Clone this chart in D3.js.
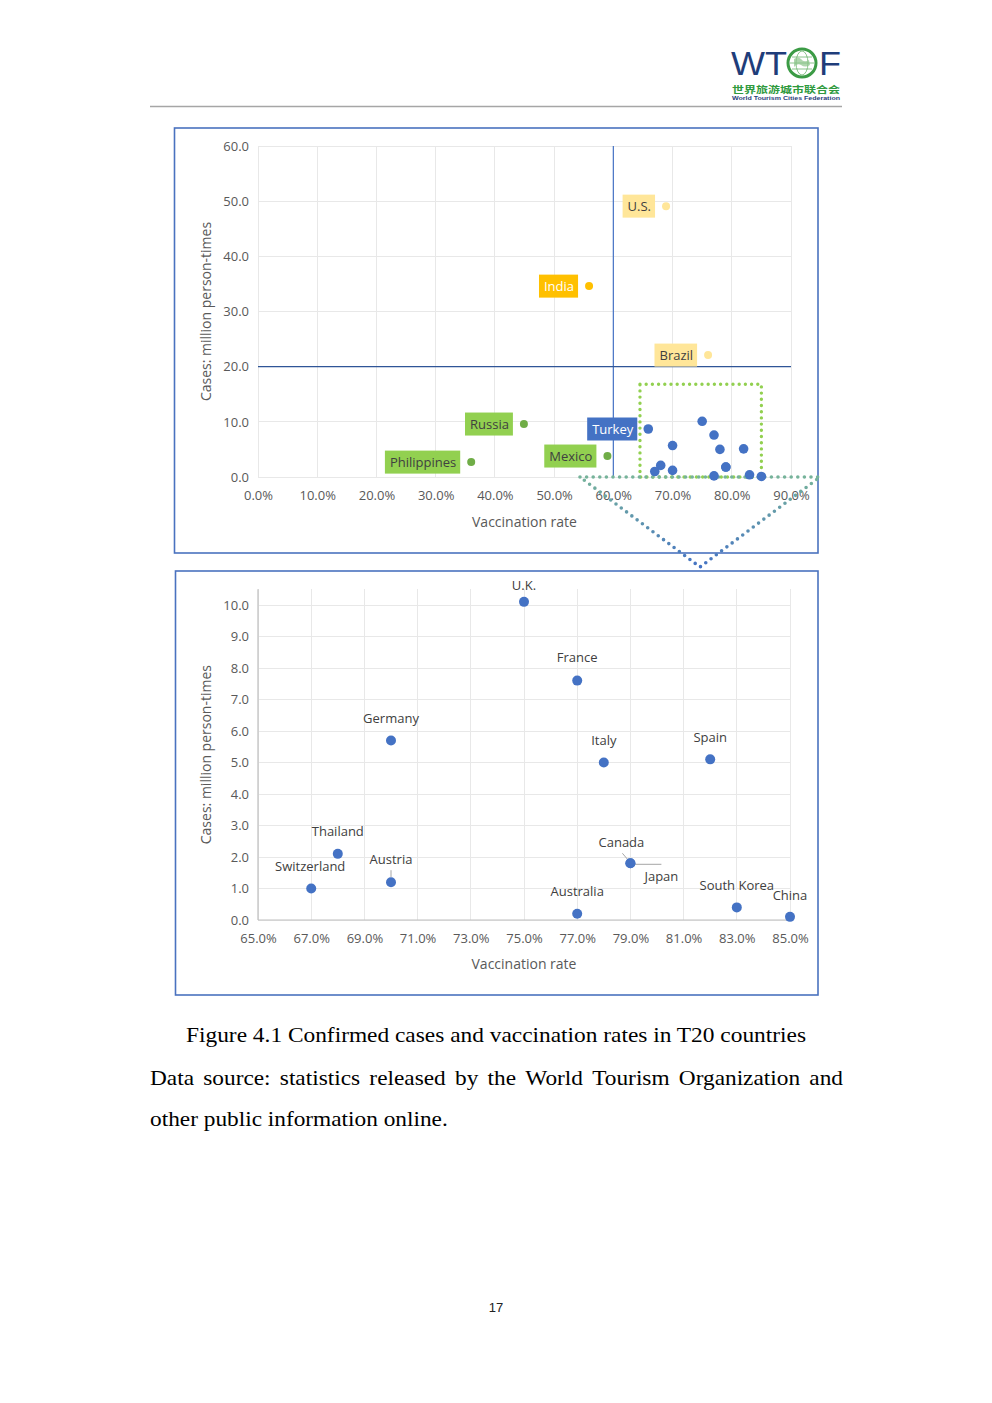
<!DOCTYPE html>
<html><head><meta charset="utf-8">
<script src="https://cdn.jsdelivr.net/npm/d3@7"></script>
<style>body{margin:0;background:#fff}</style>
</head><body>
<svg id="c" width="992" height="1403" xmlns="http://www.w3.org/2000/svg"></svg>
<script>
// ---------- DATA ----------
const topCountries = ["U.S.", "India", "Brazil", "Russia", "Philippines", "Mexico", "Turkey"];
const topRates     = [0.689, 0.559, 0.760, 0.449, 0.360, 0.590, 0.659];
const topCases     = [49.1, 34.6, 22.1, 9.6, 2.7, 3.8, 8.7];
const topGroups    = ["highCasesHighRate", "highCasesLowRate", "highCasesHighRate", "lowCasesLowRate", "lowCasesLowRate", "lowCasesLowRate", "lowCasesHighRate"];

const detailCountries = ["U.K.", "France", "Germany", "Italy", "Spain", "Thailand", "Switzerland", "Austria", "Canada", "Japan", "Australia", "South Korea", "China"];
const detailRates     = [0.75, 0.77, 0.70, 0.78, 0.82, 0.68, 0.67, 0.70, 0.79, 0.79, 0.77, 0.83, 0.85];
const detailCases     = [10.1, 7.6, 5.7, 5.0, 5.1, 2.1, 1.0, 1.2, 1.8, 1.8, 0.2, 0.4, 0.1];

const topXTicks = [0, 0.1, 0.2, 0.3, 0.4, 0.5, 0.6, 0.7, 0.8, 0.9];
const topYTicks = [0, 10, 20, 30, 40, 50, 60];
const detailXTicks = [0.65, 0.67, 0.69, 0.71, 0.73, 0.75, 0.77, 0.79, 0.81, 0.83, 0.85];
const detailYTicks = [0, 1, 2, 3, 4, 5, 6, 7, 8, 9, 10];

const rateThreshold = 0.6;
const casesThreshold = 20;
const zoomRates = [0.645, 0.85];
const zoomCases = [0, 16.8];

const xTitle = "Vaccination rate";
const yTitle = "Cases: million person-times";

// ---------- STYLE / LAYOUT (separate from data) ----------
const groupDot = {highCasesHighRate: "#FFE699", highCasesLowRate: "#FFC000", lowCasesLowRate: "#70AD47", lowCasesHighRate: "#4472C4"};
const groupBg  = {highCasesHighRate: "#FFE699", highCasesLowRate: "#FFC000", lowCasesLowRate: "#92D050", lowCasesHighRate: "#4472C4"};
const groupTx  = {highCasesHighRate: "#404040", highCasesLowRate: "#ffffff", lowCasesLowRate: "#404040", lowCasesHighRate: "#ffffff"};
const detailLabelOffset = {
  "U.K.": [0, -16], "France": [0, -23], "Germany": [0, -22], "Italy": [0, -22], "Spain": [0, -22],
  "Thailand": [0, -22], "Switzerland": [-1, -22], "Austria": [0, -23], "Canada": [-9, -21], "Japan": [31, 13],
  "Australia": [0, -22], "South Korea": [0, -22], "China": [0, -21]
};
const FONT = "'Open Sans', 'Noto Sans', sans-serif";

const svg = d3.select("#c");
svg.append("rect").attr("width", 992).attr("height", 1403).attr("fill", "#fff");

// ---------- HEADER ----------
const logo = svg.append("g");
logo.append("text").attr("x", 731).attr("y", 75).attr("font-family", "'Liberation Sans', Arial, sans-serif")
  .attr("font-size", 34).attr("fill", "#1F3D7A").attr("textLength", 56).attr("lengthAdjust", "spacingAndGlyphs").text("WT");
const gl = logo.append("g").attr("transform", "translate(802,63)");
gl.append("circle").attr("r", 14).attr("fill", "none").attr("stroke", "#3B9B45").attr("stroke-width", 3);
gl.append("ellipse").attr("rx", 6).attr("ry", 12).attr("fill", "none").attr("stroke", "#6DB56F").attr("stroke-width", 0.8);
gl.append("line").attr("x1", -12).attr("x2", 12).attr("stroke", "#6DB56F").attr("stroke-width", 0.8);
gl.append("line").attr("x1", -10).attr("x2", 10).attr("y1", -6).attr("y2", -6).attr("stroke", "#6DB56F").attr("stroke-width", 0.8);
gl.append("line").attr("x1", -10).attr("x2", 10).attr("y1", 6).attr("y2", 6).attr("stroke", "#6DB56F").attr("stroke-width", 0.8);
gl.append("path").attr("d", "M-8,-4 q4,-3 7,0 q3,4 8,1 l1,5 q-5,3 -9,0 q-4,-2 -7,2 z").attr("fill", "#8CC58A").attr("opacity", 0.7);
logo.append("text").attr("x", 819).attr("y", 75).attr("font-family", "'Liberation Sans', Arial, sans-serif")
  .attr("font-size", 34).attr("fill", "#1F3D7A").attr("textLength", 22).attr("lengthAdjust", "spacingAndGlyphs").text("F");
logo.append("text").attr("x", 732).attr("y", 93).attr("font-family", "'Noto Sans CJK SC', sans-serif")
  .attr("font-size", 9.5).attr("font-weight", "bold").attr("fill", "#2F9A3E").attr("textLength", 108).attr("lengthAdjust", "spacingAndGlyphs").text("世界旅游城市联合会");
logo.append("text").attr("x", 732).attr("y", 99.8).attr("font-family", "'Liberation Sans', Arial, sans-serif")
  .attr("font-size", 5.6).attr("font-weight", "bold").attr("fill", "#1F3D7A").attr("textLength", 108).attr("lengthAdjust", "spacingAndGlyphs").text("World Tourism Cities Federation");
svg.append("line").attr("x1", 150).attr("x2", 842).attr("y1", 106.5).attr("y2", 106.5).attr("stroke", "#A6A6A6").attr("stroke-width", 1.5);

// ---------- COMMON AXIS HELPER ----------
function drawAxes(g, x, y, xTicks, yTicks, yTopPx, withAxisLines) {
  const [x0, x1] = x.range(), [y0] = y.range();
  g.append("g").selectAll("line").data(xTicks).join("line")
    .attr("x1", d => x(d)).attr("x2", d => x(d)).attr("y1", yTopPx).attr("y2", y0)
    .attr("stroke", "#E8E8E8").attr("stroke-width", 1).attr("shape-rendering", "crispEdges");
  g.append("g").selectAll("line").data(yTicks).join("line")
    .attr("x1", x0).attr("x2", x1).attr("y1", d => y(d)).attr("y2", d => y(d))
    .attr("stroke", "#E8E8E8").attr("stroke-width", 1).attr("shape-rendering", "crispEdges");
  if (withAxisLines) {
    g.append("line").attr("x1", x0).attr("x2", x0).attr("y1", yTopPx).attr("y2", y0).attr("stroke", "#BFBFBF").attr("stroke-width", 1.2);
    g.append("line").attr("x1", x0).attr("x2", x1).attr("y1", y0).attr("y2", y0).attr("stroke", "#BFBFBF").attr("stroke-width", 1.2);
  }
  const ax = g.append("g").attr("transform", `translate(0,${y0})`)
    .call(d3.axisBottom(x).tickValues(xTicks).tickFormat(d3.format(".1%")).tickSize(0).tickPadding(14));
  const ay = g.append("g").attr("transform", `translate(${x0},0)`)
    .call(d3.axisLeft(y).tickValues(yTicks).tickFormat(d3.format(".1f")).tickSize(0).tickPadding(9));
  [ax, ay].forEach(a => {
    a.select(".domain").remove();
    a.selectAll("text").attr("font-family", FONT).attr("font-size", 13).attr("fill", "#595959");
  });
}

// ---------- TOP CHART ----------
svg.append("rect").attr("x", 174.5).attr("y", 128).attr("width", 643.5).attr("height", 425)
  .attr("fill", "none").attr("stroke", "#4A72BF").attr("stroke-width", 1.6);
const tx = d3.scaleLinear().domain([0, 0.9]).range([258, 791]);
const ty = d3.scaleLinear().domain([0, 60]).range([477, 146]);
const gTop = svg.append("g");
drawAxes(gTop, tx, ty, topXTicks, topYTicks, ty(60), false);

gTop.append("line").attr("x1", tx(rateThreshold)).attr("x2", tx(rateThreshold)).attr("y1", ty(60)).attr("y2", ty(0))
  .attr("stroke", "#4472C4").attr("stroke-width", 1.2);
gTop.append("line").attr("x1", tx(0)).attr("x2", tx(0.9)).attr("y1", ty(casesThreshold)).attr("y2", ty(casesThreshold))
  .attr("stroke", "#2F5597").attr("stroke-width", 1.2);

gTop.append("text").attr("x", (tx(0) + tx(0.9)) / 2).attr("y", 527).attr("text-anchor", "middle")
  .attr("font-family", FONT).attr("font-size", 14).attr("fill", "#595959").text(xTitle);
gTop.append("text").attr("transform", `translate(211,${(ty(0) + ty(60)) / 2}) rotate(-90)`).attr("text-anchor", "middle")
  .attr("font-family", FONT).attr("font-size", 14).attr("fill", "#595959").text(yTitle);

// zoom box + arrow
const gz = gTop.append("g");
gz.append("rect").attr("x", tx(zoomRates[0])).attr("y", ty(zoomCases[1]))
  .attr("width", tx(zoomRates[1]) - tx(zoomRates[0])).attr("height", ty(zoomCases[0]) - ty(zoomCases[1]))
  .attr("fill", "none").attr("stroke", "#92D050").attr("stroke-width", 3.4)
  .attr("stroke-dasharray", "0 6.2").attr("stroke-linecap", "round");
const defs = svg.append("defs");
const grad = defs.append("linearGradient").attr("id", "arrowGrad").attr("gradientUnits", "userSpaceOnUse")
  .attr("x1", 0).attr("x2", 0).attr("y1", ty(0)).attr("y2", 568);
grad.append("stop").attr("offset", 0).attr("stop-color", "#76B39A");
grad.append("stop").attr("offset", 1).attr("stop-color", "#4472C4");
const arrowLeft = 580, arrowRight = 820, arrowTip = [700, 567];
gz.append("path").attr("d", `M${arrowLeft},${ty(0)} L${arrowRight},${ty(0)} L${arrowTip[0]},${arrowTip[1]} Z`)
  .attr("fill", "none").attr("stroke", "url(#arrowGrad)").attr("stroke-width", 3.6)
  .attr("stroke-dasharray", "0 6.6").attr("stroke-linecap", "round");

gTop.append("g").selectAll("circle").data(detailCountries).join("circle")
  .attr("cx", (d, i) => tx(detailRates[i])).attr("cy", (d, i) => ty(detailCases[i])).attr("r", 4.8)
  .attr("fill", "#4472C4");

const tl = gTop.append("g").selectAll("g").data(topCountries).join("g");
tl.append("circle").attr("cx", (d, i) => tx(topRates[i])).attr("cy", (d, i) => ty(topCases[i]))
  .attr("r", (d, i) => topGroups[i] === "lowCasesHighRate" ? 4.8 : 4).attr("fill", (d, i) => groupDot[topGroups[i]]);
tl.each(function (d, i) {
  const g = d3.select(this);
  const cx = tx(topRates[i]), cy = ty(topCases[i]);
  const bg = g.append("rect");
  const t = g.append("text").attr("x", cx - 15).attr("y", cy + 4.7).attr("text-anchor", "end")
    .attr("font-family", FONT).attr("font-size", 13).attr("fill", groupTx[topGroups[i]]).text(d);
  const w = t.node().getComputedTextLength();
  bg.attr("x", cx - 15 - w - 5).attr("y", cy - 11.5).attr("width", w + 9).attr("height", 23)
    .attr("fill", groupBg[topGroups[i]]);
});

// ---------- DETAIL CHART ----------
svg.append("rect").attr("x", 175.5).attr("y", 571).attr("width", 642.5).attr("height", 424)
  .attr("fill", "none").attr("stroke", "#4A72BF").attr("stroke-width", 1.6);
const dx = d3.scaleLinear().domain([0.65, 0.85]).range([258, 790]);
const dy = d3.scaleLinear().domain([0, 10]).range([920, 605]);
const gDet = svg.append("g");
drawAxes(gDet, dx, dy, detailXTicks, detailYTicks, dy(10.5), true);
gDet.append("text").attr("x", (dx(0.65) + dx(0.85)) / 2).attr("y", 969).attr("text-anchor", "middle")
  .attr("font-family", FONT).attr("font-size", 14).attr("fill", "#595959").text(xTitle);
gDet.append("text").attr("transform", `translate(211,${(dy(0) + dy(10.5)) / 2}) rotate(-90)`).attr("text-anchor", "middle")
  .attr("font-family", FONT).attr("font-size", 14).attr("fill", "#595959").text(yTitle);

const leaders = gDet.append("g").attr("stroke", "#A6A6A6").attr("stroke-width", 1);
detailCountries.forEach((c, i) => {
  const px = dx(detailRates[i]), py = dy(detailCases[i]);
  if (c === "Austria") leaders.append("line").attr("x1", px).attr("x2", px).attr("y1", py - 12).attr("y2", py - 5);
  if (c === "Canada") leaders.append("line").attr("x1", px - 8).attr("x2", px - 2).attr("y1", py - 10).attr("y2", py - 3);
  if (c === "Japan") leaders.append("line").attr("x1", px + 3).attr("x2", px + 31).attr("y1", py + 1).attr("y2", py + 1);
});

gDet.append("g").selectAll("circle").data(detailCountries).join("circle")
  .attr("cx", (d, i) => dx(detailRates[i])).attr("cy", (d, i) => dy(detailCases[i])).attr("r", 5)
  .attr("fill", "#4472C4");
gDet.append("g").selectAll("text").data(detailCountries).join("text")
  .attr("x", (d, i) => dx(detailRates[i]) + detailLabelOffset[d][0])
  .attr("y", (d, i) => dy(detailCases[i]) + detailLabelOffset[d][1] + 4.6)
  .attr("text-anchor", "middle").attr("font-family", FONT).attr("font-size", 13).attr("fill", "#404040").text(d => d);

// ---------- CAPTION ----------
const SERIF = "'Liberation Serif', 'Times New Roman', serif";
const STRETCH = 1.11;
svg.append("text").attr("x", 186).attr("y", 1042).attr("font-family", SERIF).attr("font-size", 21).attr("fill", "#000")
  .attr("textLength", 620).attr("lengthAdjust", "spacingAndGlyphs")
  .text("Figure 4.1 Confirmed cases and vaccination rates in T20 countries");
const line2 = "Data source: statistics released by the World Tourism Organization and".split(" ");
const gl2 = svg.append("g");
const words = gl2.selectAll("text").data(line2).join("text").attr("y", 1085).attr("font-family", SERIF)
  .attr("font-size", 21).attr("fill", "#000").text(d => d);
const widths = words.nodes().map(n => n.getComputedTextLength() * STRETCH);
const totalW = d3.sum(widths), gap = (843 - 150 - totalW) / (line2.length - 1);
let cur = 150;
words.each(function (d, i) {
  d3.select(this).attr("x", cur).attr("textLength", widths[i]).attr("lengthAdjust", "spacingAndGlyphs");
  cur += widths[i] + gap;
});
const l3 = svg.append("text").attr("x", 150).attr("y", 1126).attr("font-family", SERIF).attr("font-size", 21).attr("fill", "#000")
  .text("other public information online.");
l3.attr("textLength", l3.node().getComputedTextLength() * STRETCH).attr("lengthAdjust", "spacingAndGlyphs");

svg.append("text").attr("x", 496).attr("y", 1312).attr("text-anchor", "middle").attr("font-family", "'Liberation Sans', Arial, sans-serif")
  .attr("font-size", 13).attr("fill", "#222").text("17");
</script>
</body></html>
